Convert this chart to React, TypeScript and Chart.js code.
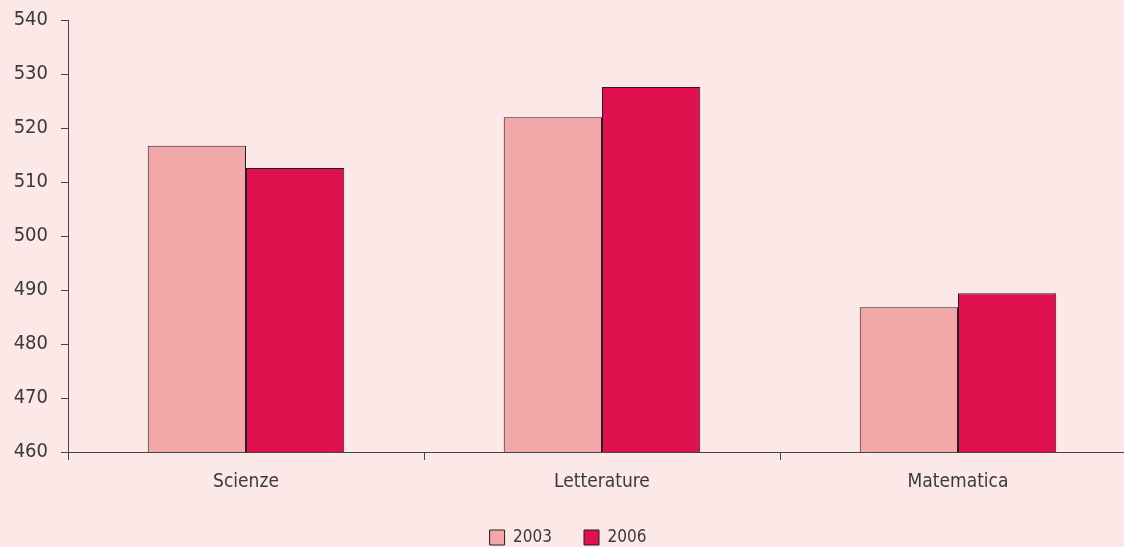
import React, { useEffect, useRef } from "react";
import { Chart, registerables } from "chart.js";

Chart.register(...registerables);

const categories = ["Scienze", "Letterature", "Matematica"];
const seriesLabels = ["2003", "2006"];
const values2003 = [516.7, 522.0, 486.8];
const values2006 = [512.6, 527.6, 489.4];
const yMin = 460;
const yMax = 540;
const yStep = 10;

const BG = "#FCE8E7";
const C2003 = "#F2A8A8";
const C2006 = "#E0114F";
const BORDER = "#2a1a1e";
const AXIS = "#444";
const TEXT = "#3a3a3a";
const FONT = "'DejaVu Sans Condensed', 'DejaVu Sans', sans-serif";

export default function App() {
  const ref = useRef<HTMLCanvasElement | null>(null);

  useEffect(() => {
    if (!ref.current) return;
    const chart = new Chart(ref.current, {
      type: "bar",
      data: {
        labels: categories,
        datasets: [
          {
            label: seriesLabels[0],
            data: values2003,
            backgroundColor: C2003,
            borderColor: BORDER,
            borderWidth: 1,
            categoryPercentage: 0.552,
            barPercentage: 1,
          },
          {
            label: seriesLabels[1],
            data: values2006,
            backgroundColor: C2006,
            borderColor: BORDER,
            borderWidth: 1,
            categoryPercentage: 0.552,
            barPercentage: 1,
          },
        ],
      },
      options: {
        responsive: false,
        animation: false,
        devicePixelRatio: 1,
        layout: { padding: { top: 20, left: 0, right: 0, bottom: 0 } },
        plugins: {
          tooltip: { enabled: false },
          legend: {
            position: "bottom",
            labels: {
              boxWidth: 15,
              boxHeight: 15,
              padding: 32,
              color: TEXT,
              font: { family: FONT, size: 17 },
            },
          },
        },
        scales: {
          x: {
            offset: true,
            grid: {
              display: true,
              offset: true,
              drawOnChartArea: false,
              drawTicks: true,
              tickLength: 8,
              color: AXIS,
            },
            border: { display: true, color: AXIS },
            ticks: {
              color: TEXT,
              padding: 11,
              font: { family: FONT, size: 19 },
            },
            afterFit: (s: any) => {
              s.height = 45;
              s.paddingLeft = 0;
              s.paddingRight = 0;
            },
          },
          y: {
            min: yMin,
            max: yMax,
            grid: {
              display: true,
              drawOnChartArea: false,
              drawTicks: true,
              tickLength: 7,
              color: AXIS,
            },
            border: { display: true, color: AXIS },
            ticks: {
              stepSize: yStep,
              color: TEXT,
              padding: 13,
              font: { family: FONT, size: 20 },
            },
            afterFit: (s: any) => {
              s.width = 68;
              s.paddingTop = 0;
              s.paddingBottom = 0;
            },
          },
        },
      },
    });
    return () => chart.destroy();
  }, []);

  return (
    <div
      style={{
        position: "fixed",
        left: 0,
        top: 0,
        width: 1124,
        height: 547,
        overflow: "hidden",
        background: BG,
      }}
    >
      <canvas ref={ref} width={1136} height={556} style={{ display: "block" }} />
    </div>
  );
}
